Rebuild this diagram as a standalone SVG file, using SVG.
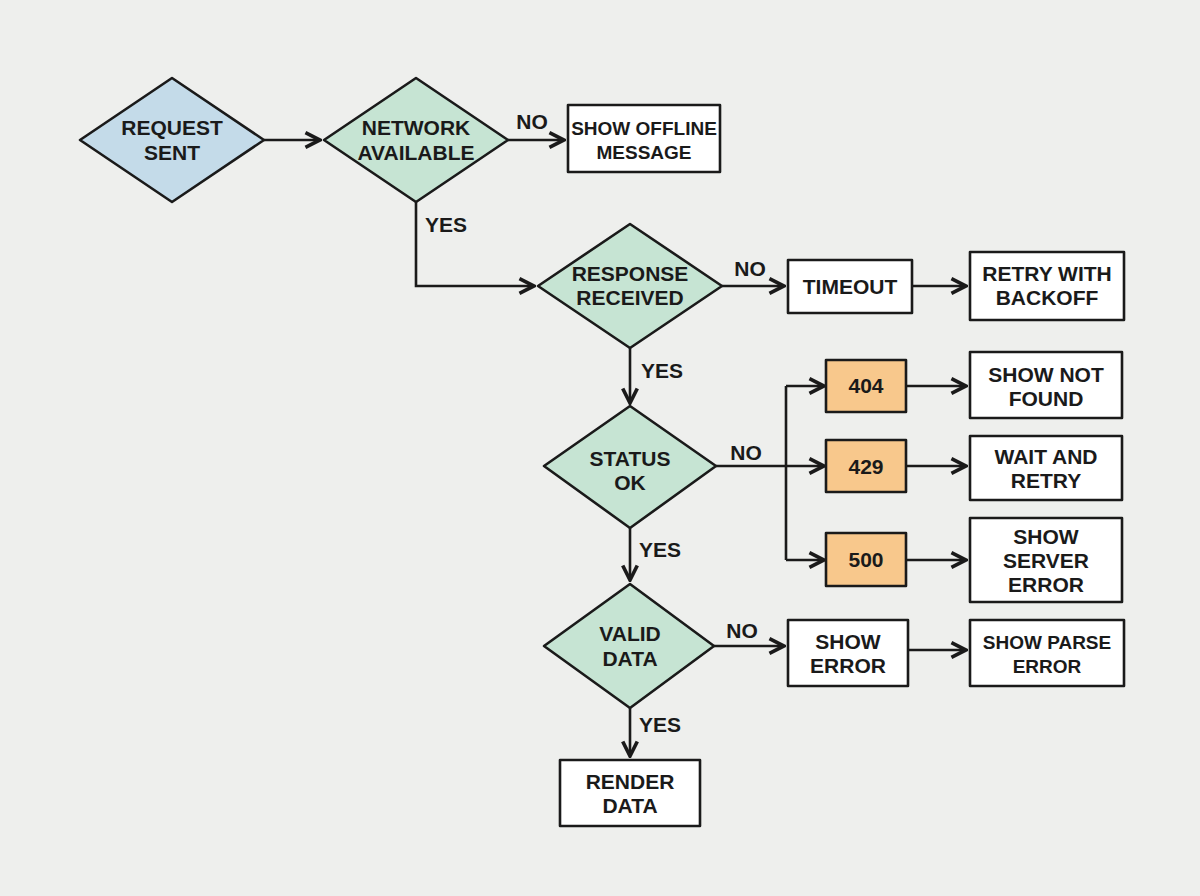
<svg xmlns="http://www.w3.org/2000/svg" width="1200" height="896" viewBox="0 0 1200 896">
<style>
.s{stroke:#1a1a1a;stroke-width:2.6;stroke-linejoin:round}
.r{fill:#ffffff}
.b{fill:#c4dbe9}
.g{fill:#c6e4d3}
.o{fill:#f8c88c}
text{font-family:"Liberation Sans",Arial,sans-serif;font-weight:bold;font-size:21px;fill:#1a1a1a;text-anchor:middle}
.sm{font-size:19px}
.c{fill:none;stroke:#1a1a1a;stroke-width:2.6}
</style>
<defs><marker id="a" viewBox="0 0 10 10" refX="9" refY="5" markerWidth="7" markerHeight="7" orient="auto"><path d="M1,1 L9,5 L1,9" fill="none" stroke="#1a1a1a" stroke-width="2"/></marker></defs>
<rect width="1200" height="896" fill="#eeefed"/>
<g id="connectors">
<path class="c" d="M264,140 H320" marker-end="url(#a)"/>
<path class="c" d="M508,140 H564" marker-end="url(#a)"/>
<path class="c" d="M416,202 V286 H534" marker-end="url(#a)"/>
<path class="c" d="M722,286 H784" marker-end="url(#a)"/>
<path class="c" d="M912,286 H966" marker-end="url(#a)"/>
<path class="c" d="M630,348 V403" marker-end="url(#a)"/>
<path class="c" d="M716,466 H786"/>
<path class="c" d="M786,386 V560"/>
<path class="c" d="M786,386 H824" marker-end="url(#a)"/>
<path class="c" d="M786,466 H824" marker-end="url(#a)"/>
<path class="c" d="M786,560 H824" marker-end="url(#a)"/>
<path class="c" d="M906,386 H966" marker-end="url(#a)"/>
<path class="c" d="M906,466 H966" marker-end="url(#a)"/>
<path class="c" d="M906,560 H966" marker-end="url(#a)"/>
<path class="c" d="M630,528 V580" marker-end="url(#a)"/>
<path class="c" d="M714,646 H784" marker-end="url(#a)"/>
<path class="c" d="M908,650 H966" marker-end="url(#a)"/>
<path class="c" d="M630,708 V756" marker-end="url(#a)"/>
<text x="532" y="129">NO</text>
<text x="446" y="232">YES</text>
<text x="750" y="276">NO</text>
<text x="662" y="378">YES</text>
<text x="746" y="460">NO</text>
<text x="660" y="557">YES</text>
<text x="742" y="638">NO</text>
<text x="660" y="732">YES</text>
</g>
<g id="request"><polygon class="s b" points="80,140 172,78 264,140 172,202"/><text x="172" y="135">REQUEST</text><text x="172" y="160">SENT</text></g>
<g id="network"><polygon class="s g" points="324,140 416,78 508,140 416,202"/><text x="416" y="135">NETWORK</text><text x="416" y="160">AVAILABLE</text></g>
<g id="offline"><rect class="s r" x="568" y="105" width="152" height="67"/><text class="sm" x="644" y="135">SHOW OFFLINE</text><text class="sm" x="644" y="159">MESSAGE</text></g>
<g id="response"><polygon class="s g" points="538,286 630,224 722,286 630,348"/><text x="630" y="281">RESPONSE</text><text x="630" y="305">RECEIVED</text></g>
<g id="timeout"><rect class="s r" x="788" y="260" width="124" height="53"/><text x="850" y="294">TIMEOUT</text></g>
<g id="retry"><rect class="s r" x="970" y="252" width="154" height="68"/><text x="1047" y="281">RETRY WITH</text><text x="1047" y="305">BACKOFF</text></g>
<g id="status"><polygon class="s g" points="544,466 630,406 716,466 630,528"/><text x="630" y="466">STATUS</text><text x="630" y="490">OK</text></g>
<g id="n404"><rect class="s o" x="826" y="360" width="80" height="52"/><text x="866" y="393">404</text></g>
<g id="n429"><rect class="s o" x="826" y="440" width="80" height="52"/><text x="866" y="474">429</text></g>
<g id="n500"><rect class="s o" x="826" y="533" width="80" height="53"/><text x="866" y="567">500</text></g>
<g id="notfound"><rect class="s r" x="970" y="352" width="152" height="66"/><text x="1046" y="382">SHOW NOT</text><text x="1046" y="406">FOUND</text></g>
<g id="wait"><rect class="s r" x="970" y="436" width="152" height="64"/><text x="1046" y="464">WAIT AND</text><text x="1046" y="488">RETRY</text></g>
<g id="server"><rect class="s r" x="970" y="518" width="152" height="84"/><text x="1046" y="544">SHOW</text><text x="1046" y="568">SERVER</text><text x="1046" y="592">ERROR</text></g>
<g id="valid"><polygon class="s g" points="544,646 630,584 714,646 630,708"/><text x="630" y="641">VALID</text><text x="630" y="666">DATA</text></g>
<g id="showerror"><rect class="s r" x="788" y="620" width="120" height="66"/><text x="848" y="649">SHOW</text><text x="848" y="673">ERROR</text></g>
<g id="parse"><rect class="s r" x="970" y="620" width="154" height="66"/><text class="sm" x="1047" y="649">SHOW PARSE</text><text class="sm" x="1047" y="673">ERROR</text></g>
<g id="render"><rect class="s r" x="560" y="760" width="140" height="66"/><text x="630" y="789">RENDER</text><text x="630" y="813">DATA</text></g>
</svg>
